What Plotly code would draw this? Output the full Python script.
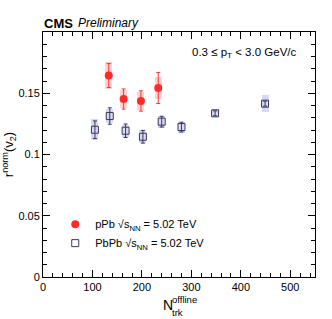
import plotly.graph_objects as go

# pPb
ppb_x = [133, 163, 198, 233]
ppb_y = [0.1645, 0.1453, 0.1437, 0.1543]
ppb_stat = [0.0098, 0.0082, 0.0083, 0.0127]
ppb_sys = [0.0113, 0.0070, 0.0075, 0.0090]

# PbPb
pbpb_x = [105, 135, 167, 202, 240, 280, 348, 449]
pbpb_y = [0.1202, 0.1314, 0.1194, 0.1145, 0.1268, 0.1224, 0.1336, 0.1415]
pbpb_stat = [0.0072, 0.0067, 0.0055, 0.0052, 0.0044, 0.0040, 0.0020, 0.0020]
pbpb_sys = [0.0086, 0.0060, 0.0050, 0.0055, 0.0050, 0.0045, 0.0033, 0.0068]

x_ticks = [0, 100, 200, 300, 400, 500]
y_ticks = [0, 0.05, 0.1, 0.15]
y_ticklabels = ["0", "0.05", "0.1", "0.15"]

FONT = "Liberation Sans, Arial, sans-serif"

fig = go.Figure()

# systematic boxes
fig.add_trace(go.Bar(x=pbpb_x, y=[2 * s for s in pbpb_sys],
                     base=[v - s for v, s in zip(pbpb_y, pbpb_sys)],
                     width=14, marker=dict(color="rgba(205,205,248,0.8)", line=dict(width=0)),
                     showlegend=False, hoverinfo="skip"))
fig.add_trace(go.Bar(x=ppb_x, y=[2 * s for s in ppb_sys],
                     base=[v - s for v, s in zip(ppb_y, ppb_sys)],
                     width=14, marker=dict(color="rgba(255,195,195,0.75)", line=dict(width=0)),
                     showlegend=False, hoverinfo="skip"))

fig.add_trace(go.Scatter(
    x=ppb_x, y=ppb_y, mode="markers", name="pPb √s<sub>NN</sub> = 5.02 TeV",
    marker=dict(symbol="circle", size=8, color="#ff2a2a"),
    error_y=dict(type="data", array=ppb_stat, color="#ff3030", thickness=1, width=2),
))
fig.add_trace(go.Scatter(
    x=pbpb_x, y=pbpb_y, mode="markers", name="PbPb √s<sub>NN</sub> = 5.02 TeV",
    marker=dict(symbol="square-open", size=7, color="#3a3a55", line=dict(width=1)),
    error_y=dict(type="data", array=pbpb_stat, color="#3a3a55", thickness=1, width=2),
))

axis_common = dict(
    showline=True, linecolor="black", linewidth=1, mirror="allticks",
    ticks="inside", tickcolor="black", showgrid=False, zeroline=False,
    automargin=False,
    tickfont=dict(family=FONT, size=11, color="black"),
)

fig.update_layout(
    width=332, height=319,
    margin=dict(l=43, r=17, t=32, b=42, autoexpand=False),
    paper_bgcolor="white", plot_bgcolor="white",
    barmode="overlay", bargap=0,
    font=dict(family=FONT, color="black"),
    xaxis=dict(range=[0, 550], tickvals=x_ticks, ticklen=7,
               minor=dict(dtick=20, ticklen=4, ticks="inside", tickcolor="black", showgrid=False),
               **axis_common),
    yaxis=dict(range=[0, 0.2], tickvals=y_ticks, ticktext=y_ticklabels, ticklen=7,
               minor=dict(dtick=0.01, ticklen=4, ticks="inside", tickcolor="black", showgrid=False),
               title=dict(text="r<sup>norm</sup>(v<sub>2</sub>)", font=dict(family=FONT, size=13), standoff=6),
               **axis_common),
    legend=dict(x=0.045, y=0.275, xanchor="left", yanchor="top", bgcolor="rgba(0,0,0,0)",
                font=dict(family=FONT, size=11), tracegroupgap=0),
    showlegend=True,
)


def px_x(px):
    return (px - 43) / 272


def px_y(py):
    return (277 - py) / 245


def label(text, x, y, size, anchor="left"):
    fig.add_annotation(text=text, x=px_x(x), y=px_y(y), xref="paper", yref="paper",
                       xanchor=anchor, yanchor="middle", showarrow=False,
                       font=dict(family=FONT, size=size, color="black"))


label("<b>CMS</b>", 42, 23, 13)
label("<i>Preliminary</i>", 76, 23, 12)
label("0.3 ≤ p<sub>T</sub> < 3.0 GeV/c", 299, 53, 11.5, anchor="right")
# x title: N with stacked sub/sup
label("N", 161, 305, 14)
label("offline", 170, 299.5, 9.5)
label("trk", 170, 312, 9.5)

fig.write_html("out.html", config={"displayModeBar": False},
               post_script="document.body.style.margin='0';document.body.style.padding='0';")
